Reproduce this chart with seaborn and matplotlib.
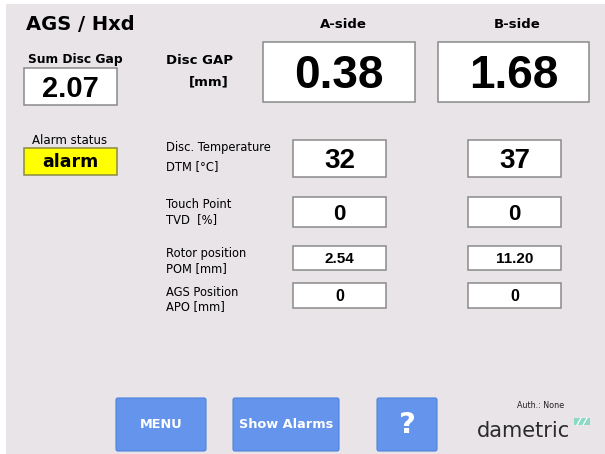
import matplotlib
matplotlib.use("Agg")
import matplotlib.pyplot as plt
from matplotlib.patches import Rectangle, FancyBboxPatch
import seaborn as sns

# screen values
title = "AGS / Hxd"
sides = ["A-side", "B-side"]
disc_gap = ["0.38", "1.68"]
sum_disc_gap = "2.07"
alarm_state = "alarm"
param_names = ["Disc. Temperature\nDTM [\u00b0C]", "Touch Point\nTVD  [%]",
               "Rotor position\nPOM [mm]", "AGS Position\nAPO [mm]"]
a_values = ["32", "0", "2.54", "0"]
b_values = ["37", "0", "11.20", "0"]
buttons = ["MENU", "Show Alarms", "?"]
auth_text = "Auth.: None"

sns.set_theme(style="white")
plt.rcParams["font.family"] = ["DejaVu Sans"]
plt.rcParams["text.color"] = "black"

W, H = 605, 454
fig = plt.figure(figsize=(W / 100, H / 100), dpi=100, facecolor="white")
ax = fig.add_axes([0, 0, 1, 1])
ax.set_xlim(0, W)
ax.set_ylim(H, 0)
ax.axis("off")

BG = "#e8e4e8"
EDGE = "#8a8a8a"
BLUE = "#6494ec"
NUM = "Liberation Sans"

ax.add_patch(Rectangle((6, 4), W - 6, H - 4, facecolor=BG, edgecolor="none"))


def box(x0, x1, y0, y1, text, size, fc="white", font=NUM, ec=EDGE, cap=0.716):
    ax.add_patch(Rectangle((x0, y0), x1 - x0, y1 - y0, facecolor=fc,
                           edgecolor=ec, linewidth=1.1))
    # put the baseline so the digits sit in the middle of the box
    base = (y0 + y1) / 2 + cap * size * 100 / 72 / 2
    ax.text((x0 + x1) / 2, base, text, ha="center", va="baseline",
            fontsize=size, fontweight="bold", family=font, color="black")


# header
ax.text(26, 25, title, fontsize=14, fontweight="bold", va="center", ha="left")
ax.text(75, 60, "Sum Disc Gap", fontsize=8.8, fontweight="bold", va="center", ha="center")
box(24, 117, 68, 105, sum_disc_gap, 21)
ax.text(200, 60, "Disc GAP", fontsize=9.5, fontweight="bold", va="center", ha="center")
ax.text(209, 82, "[mm]", fontsize=9.5, fontweight="bold", va="center", ha="center")

side_x = [(263, 415), (438, 589)]
for (x0, x1), lab, val in zip(side_x, sides, disc_gap):
    ax.text((x0 + x1) / 2 + 4, 25, lab, fontsize=9.5, fontweight="bold",
            va="center", ha="center")
    box(x0, x1, 42, 102, val, 33)

# alarm
ax.text(70, 140, "Alarm status", fontsize=8.5, va="center", ha="center")
box(24, 117, 148, 175, alarm_state, 12.5, fc="#ffff00", font="DejaVu Sans",
    ec="#8a8a40", cap=0.6)

# parameter rows
row_y = [(140, 177), (197, 227), (246, 270), (283, 308)]
label_y = [(148, 167), (205, 220), (254, 269), (292, 307)]
sizes = [20, 16, 11, 11.5]
for (y0, y1), (l0, l1), name, av, bv, fs in zip(row_y, label_y, param_names,
                                                a_values, b_values, sizes):
    first, second = name.split("\n")
    ax.text(166, l0, first, fontsize=8.3, va="center", ha="left")
    ax.text(166, l1, second, fontsize=8.3, va="center", ha="left")
    box(293, 386, y0, y1, av, fs)
    box(468, 561, y0, y1, bv, fs)

# buttons
btn_x = [(116, 206), (233, 339), (377, 437)]
for (x0, x1), lab in zip(btn_x, buttons):
    ax.add_patch(FancyBboxPatch((x0, 398), x1 - x0, 53,
                                boxstyle="round,pad=0,rounding_size=2",
                                facecolor=BLUE, edgecolor="#4f82dc", linewidth=0.8))
    fs = 21 if lab == "?" else 9.3
    ax.text((x0 + x1) / 2, 425, lab, fontsize=fs, fontweight="bold", color="white",
            va="center", ha="center")

# footer
ax.text(541, 405, auth_text, fontsize=5.8, va="center", ha="center", color="#222222")
ax.text(524, 431, "dametric", fontsize=15, va="center", ha="center", color="#2b2b2b")
ax.add_patch(Rectangle((574, 418), 16, 7, facecolor="#8cd9c6", edgecolor="none"))
ax.plot([577, 581], [425, 418], color="white", lw=0.9)
ax.plot([583, 587], [425, 418], color="white", lw=0.9)

fig.savefig("out.png", dpi=100, facecolor="white")
